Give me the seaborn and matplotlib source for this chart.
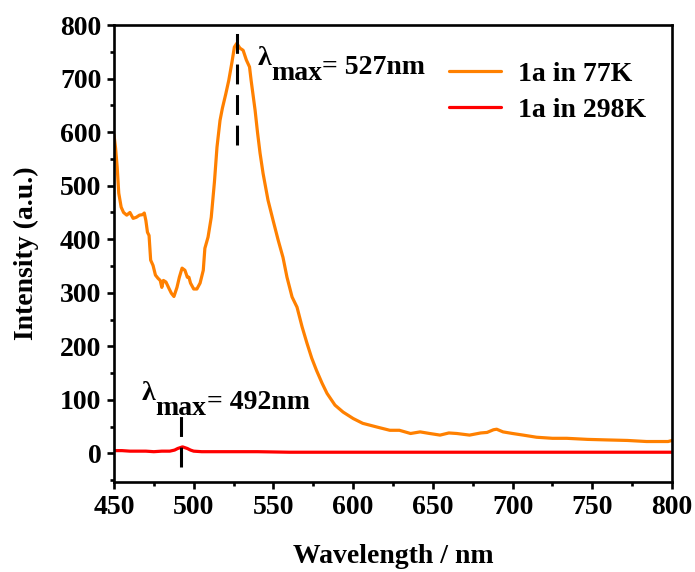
import numpy as np
import pandas as pd
import matplotlib
matplotlib.use("Agg")
import matplotlib.pyplot as plt
from matplotlib.ticker import MultipleLocator
import seaborn as sns

# ---- data ----
wl_77 = [450, 451, 452, 453, 454.5, 456, 458, 460, 462, 464, 466, 468, 469, 470, 471, 472,
         473, 474.5, 476, 477.6, 479, 480, 481, 482.6, 484.5, 486, 487.6, 489.5, 491, 492.7,
         494.5, 496, 497, 498, 500, 502, 504, 506, 507, 509, 511, 513, 514.6, 516.5, 518,
         520, 522, 524, 525.5, 527, 529, 531, 533, 535, 536, 538.5, 540, 541.6, 543.5,
         546.6, 549.8, 553, 556, 558.5, 561.7, 564.8, 568, 571, 574, 577, 580.5,
         583.6, 588.6, 593.7, 600, 606, 615, 623, 629, 636, 642, 648, 654.5, 660, 665,
         673, 680, 684, 688, 690, 694, 700, 706.6, 715, 725, 734, 747, 759, 772, 784, 797.5, 800]
int_77 = [595, 570, 535, 486, 460, 450, 445, 450, 439, 441, 445, 446, 449, 435, 413, 407,
          361, 351, 333, 327, 323, 310, 323, 320, 308, 299, 293, 310, 329, 346,
          342, 329, 329, 318, 307, 307, 318, 342, 383, 404, 441, 507, 572, 622, 645,
          670, 697, 731, 759, 766, 757, 753, 735, 722, 697, 641, 600, 561, 523,
          473, 435, 398, 366, 329, 292, 273, 236, 206, 178, 155, 131,
          112, 90, 77, 65, 56, 49, 43, 43, 37, 40, 37, 34, 38, 37,
          34, 38, 39, 44, 45, 40, 37, 34, 30, 28, 28, 26, 25, 24, 22, 22, 24]

wl_298 = [450, 455, 460, 465, 470, 475, 480, 485, 488, 490, 492, 493, 494, 496, 498, 500,
          505, 510, 520, 540, 560, 600, 650, 700, 750, 800]
int_298 = [5, 5, 4, 4, 4, 3, 4, 4, 6, 9, 11, 12, 11, 9, 6, 4,
           3, 3, 3, 3, 2, 2, 2, 2, 2, 2]

series_names = ["1a in 77K", "1a in 298K"]
series_colors = ["#FF8000", "#FF0000"]
peak_wl = [527, 492]
x_ticks = [450, 500, 550, 600, 650, 700, 750, 800]
y_ticks = [0, 100, 200, 300, 400, 500, 600, 700, 800]

df = pd.concat([
    pd.DataFrame({"wl": wl_77, "I": int_77, "s": series_names[0]}),
    pd.DataFrame({"wl": wl_298, "I": int_298, "s": series_names[1]}),
])

sns.set_theme(style="ticks")
plt.rcParams["font.family"] = ["Liberation Serif", "DejaVu Serif"]
plt.rcParams["font.weight"] = "bold"
plt.rcParams["text.color"] = "black"
plt.rcParams["axes.labelcolor"] = "black"

FS = 20

fig = plt.figure(figsize=(6.95, 5.72), dpi=100)
ax = fig.add_axes([0.164, 0.157, 0.803, 0.799])

sns.lineplot(data=df, x="wl", y="I", hue="s", palette=series_colors,
             linewidth=2.3, ax=ax, sort=False, estimator=None)

ax.set_xlim(450, 800)
ax.set_ylim(-54, 800)
ax.set_xticks(x_ticks)
ax.set_yticks(y_ticks)
ax.xaxis.set_minor_locator(MultipleLocator(25))
ax.yaxis.set_minor_locator(MultipleLocator(50))

for sp in ax.spines.values():
    sp.set_linewidth(1.9)
    sp.set_color("black")
ax.tick_params(which="major", direction="out", length=5, width=1.9,
               labelsize=FS, colors="black", pad=4)
ax.tick_params(which="minor", direction="out", length=3, width=1.9, colors="black")
for lab in ax.get_xticklabels() + ax.get_yticklabels():
    lab.set_fontweight("bold")

ax.set_xlabel("Wavelength / nm", fontsize=FS, fontweight="bold")
ax.set_ylabel("Intensity (a.u.)", fontsize=FS, fontweight="bold")
ax.xaxis.set_label_coords(0.5, -0.135)
ax.yaxis.set_label_coords(-0.135, 0.5)

# dashed markers at peaks
ax.vlines(peak_wl[0], 577, 800, colors="black", linestyles=(0, (6.5, 3.5)), linewidth=2.2)
ax.vlines(peak_wl[1], -26, 71, colors="black", linestyles=(0, (6.5, 3.5)), linewidth=2.2)

# lambda_max annotations
def lam_label(x, y, value):
    t1 = ax.text(x, y, "λ", fontsize=FS, fontweight="bold", va="top", ha="left")
    t2 = ax.annotate("max", xy=(1.0, 0.0), xycoords=t1, fontsize=FS, fontweight="bold",
                     va="top", ha="left", xytext=(0, 7), textcoords="offset points")
    ax.annotate("= %dnm" % value, xy=(1.0, 0.0), xycoords=t2, fontsize=FS,
                fontweight="bold", va="bottom", ha="left", xytext=(0, 4.5),
                textcoords="offset points")

lam_label(540.3, 762, peak_wl[0])
lam_label(467.6, 136, peak_wl[1])

leg = ax.legend(loc="upper left", bbox_to_anchor=(0.555, 0.976), frameon=False,
                fontsize=FS, handlelength=1.9, handletextpad=0.6, labelspacing=0.38)
for t in leg.get_texts():
    t.set_fontweight("bold")
for l in leg.get_lines():
    l.set_linewidth(2.3)

fig.savefig("out.png", dpi=100)
